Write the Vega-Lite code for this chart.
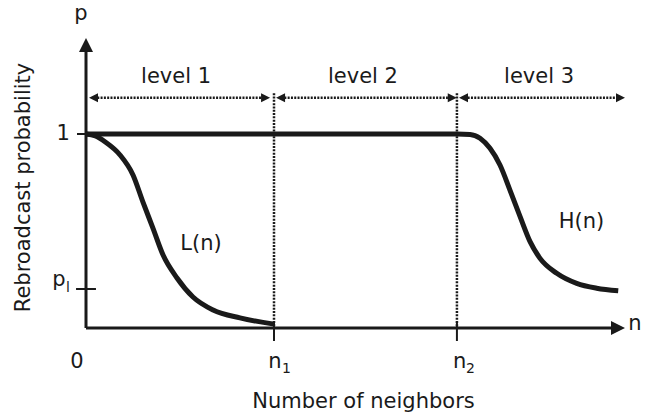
{
  "$schema": "https://vega.github.io/schema/vega-lite/v6.json",
  "width": 561,
  "height": 328,
  "autosize": "none",
  "padding": {"left": 86, "top": 0, "right": 0, "bottom": 86},
  "background": "white",
  "config": {"view": {"stroke": null}, "font": "DejaVu Sans"},
  "datasets": {
    "curves": [
      {"curve": "L", "x": 0, "y": 1},
      {"curve": "L", "x": 0.05, "y": 0.99},
      {"curve": "L", "x": 0.101, "y": 0.96},
      {"curve": "L", "x": 0.181, "y": 0.892},
      {"curve": "L", "x": 0.25, "y": 0.789},
      {"curve": "L", "x": 0.303, "y": 0.649},
      {"curve": "L", "x": 0.356, "y": 0.515},
      {"curve": "L", "x": 0.41, "y": 0.376},
      {"curve": "L", "x": 0.484, "y": 0.258},
      {"curve": "L", "x": 0.569, "y": 0.16},
      {"curve": "L", "x": 0.676, "y": 0.093},
      {"curve": "L", "x": 0.819, "y": 0.052},
      {"curve": "L", "x": 1.0, "y": 0.02},
      {"curve": "H", "x": 0, "y": 1},
      {"curve": "H", "x": 1.973, "y": 1},
      {"curve": "H", "x": 2.043, "y": 0.998},
      {"curve": "H", "x": 2.096, "y": 0.978},
      {"curve": "H", "x": 2.149, "y": 0.926},
      {"curve": "H", "x": 2.202, "y": 0.84},
      {"curve": "H", "x": 2.255, "y": 0.711},
      {"curve": "H", "x": 2.309, "y": 0.574},
      {"curve": "H", "x": 2.362, "y": 0.445},
      {"curve": "H", "x": 2.415, "y": 0.359},
      {"curve": "H", "x": 2.504, "y": 0.282},
      {"curve": "H", "x": 2.61, "y": 0.23},
      {"curve": "H", "x": 2.716, "y": 0.205},
      {"curve": "H", "x": 2.831, "y": 0.192}
    ],
    "axes": [
      {"x": 0, "x2": 0, "y": 0, "y2": 1.43},
      {"x": 0, "x2": 2.81, "y": 0, "y2": 0}
    ],
    "ticks": [
      {"x": -0.048, "x2": 0, "y": 1, "y2": 1},
      {"x": -0.053, "x2": 0.053, "y": 0.201, "y2": 0.201},
      {"x": 1, "x2": 1, "y": -0.067, "y2": 0.03},
      {"x": 1.973, "x2": 1.973, "y": -0.067, "y2": 0.03}
    ],
    "dotted": [
      {"x": 0.06, "x2": 0.935, "y": 1.187, "y2": 1.187},
      {"x": 1.055, "x2": 1.925, "y": 1.187, "y2": 1.187},
      {"x": 2.03, "x2": 2.82, "y": 1.187, "y2": 1.187},
      {"x": 1, "x2": 1, "y": 1.21, "y2": 0},
      {"x": 1.973, "x2": 1.973, "y": 1.21, "y2": 0}
    ],
    "arrowsRight": [
      {"x": 0.979, "y": 1.187},
      {"x": 1.972, "y": 1.187},
      {"x": 2.867, "y": 1.187}
    ],
    "arrowsLeft": [
      {"x": 0.016, "y": 1.187},
      {"x": 1.011, "y": 1.187},
      {"x": 1.984, "y": 1.187}
    ],
    "bigRight": [{"x": 2.867, "y": 0}],
    "bigUp": [{"x": 0, "y": 1.495}],
    "labels": [
      {"label": "p", "x": -0.027, "y": 1.588},
      {"label": "level 1", "x": 0.479, "y": 1.263},
      {"label": "level 2", "x": 1.473, "y": 1.263},
      {"label": "level 3", "x": 2.41, "y": 1.263},
      {"label": "1", "x": -0.122, "y": 0.969},
      {"label": "p", "x": -0.144, "y": 0.2165},
      {"label": "0", "x": -0.048, "y": -0.206},
      {"label": "n", "x": 1.005, "y": -0.206},
      {"label": "n", "x": 1.987, "y": -0.206},
      {"label": "n", "x": 2.92, "y": -0.0103},
      {"label": "L(n)", "x": 0.612, "y": 0.402},
      {"label": "H(n)", "x": 2.636, "y": 0.515}
    ],
    "subs": [
      {"label": "l", "x": -0.096, "y": 0.186},
      {"label": "1", "x": 1.066, "y": -0.232},
      {"label": "2", "x": 2.045, "y": -0.232}
    ]
  },
  "encoding": {
    "x": {
      "field": "x", "type": "quantitative",
      "scale": {"domain": [0, 2.984], "nice": false, "zero": false},
      "axis": {
        "domain": false, "ticks": false, "labels": false, "grid": false,
        "title": "Number of neighbors", "titleFont": "DejaVu Sans", "titleFontSize": 21,
        "titleFontWeight": "normal", "titleColor": "#1a1a1a",
        "titleX": 277, "titleY": 79, "titleAlign": "center", "titleBaseline": "alphabetic"
      }
    },
    "y": {
      "field": "y", "type": "quantitative",
      "scale": {"domain": [0, 1.6907], "nice": false, "zero": false},
      "axis": {
        "domain": false, "ticks": false, "labels": false, "grid": false,
        "title": "Rebroadcast probability", "titleFont": "DejaVu Sans", "titleFontSize": 21,
        "titleFontWeight": "normal", "titleColor": "#1a1a1a",
        "titleAngle": 270, "titleX": -63, "titleY": 187, "titleAlign": "center", "titleBaseline": "middle"
      }
    }
  },
  "layer": [
    {
      "data": {"name": "dotted"},
      "mark": {"type": "rule", "color": "#1a1a1a", "strokeWidth": 2.5, "strokeDash": [2, 1.3]},
      "encoding": {"x2": {"field": "x2"}, "y2": {"field": "y2"}}
    },
    {
      "data": {"name": "axes"},
      "mark": {"type": "rule", "color": "#1a1a1a", "strokeWidth": 3},
      "encoding": {"x2": {"field": "x2"}, "y2": {"field": "y2"}}
    },
    {
      "data": {"name": "ticks"},
      "mark": {"type": "rule", "color": "#1a1a1a", "strokeWidth": 2},
      "encoding": {"x2": {"field": "x2"}, "y2": {"field": "y2"}}
    },
    {
      "data": {"name": "curves"},
      "mark": {"type": "line", "color": "#1a1a1a", "strokeWidth": 5, "interpolate": "monotone", "strokeJoin": "round"},
      "encoding": {"detail": {"field": "curve", "type": "nominal"}}
    },
    {
      "data": {"name": "arrowsRight"},
      "mark": {"type": "point", "shape": "M0,0L-2,-1L-2,1Z", "filled": true, "size": 81, "color": "#1a1a1a", "opacity": 1, "strokeWidth": 0}
    },
    {
      "data": {"name": "arrowsLeft"},
      "mark": {"type": "point", "shape": "M0,0L2,-1L2,1Z", "filled": true, "size": 81, "color": "#1a1a1a", "opacity": 1, "strokeWidth": 0}
    },
    {
      "data": {"name": "bigRight"},
      "mark": {"type": "point", "shape": "M0,0L-2,-1L-2,1Z", "filled": true, "size": 196, "color": "#1a1a1a", "opacity": 1, "strokeWidth": 0}
    },
    {
      "data": {"name": "bigUp"},
      "mark": {"type": "point", "shape": "M0,0L-1,2L1,2Z", "filled": true, "size": 196, "color": "#1a1a1a", "opacity": 1, "strokeWidth": 0}
    },
    {
      "data": {"name": "labels"},
      "mark": {"type": "text", "font": "DejaVu Sans", "fontSize": 21, "color": "#1a1a1a", "align": "center", "baseline": "alphabetic"},
      "encoding": {"text": {"field": "label"}}
    },
    {
      "data": {"name": "subs"},
      "mark": {"type": "text", "font": "DejaVu Sans", "fontSize": 14, "color": "#1a1a1a", "align": "center", "baseline": "alphabetic"},
      "encoding": {"text": {"field": "label"}}
    }
  ]
}
